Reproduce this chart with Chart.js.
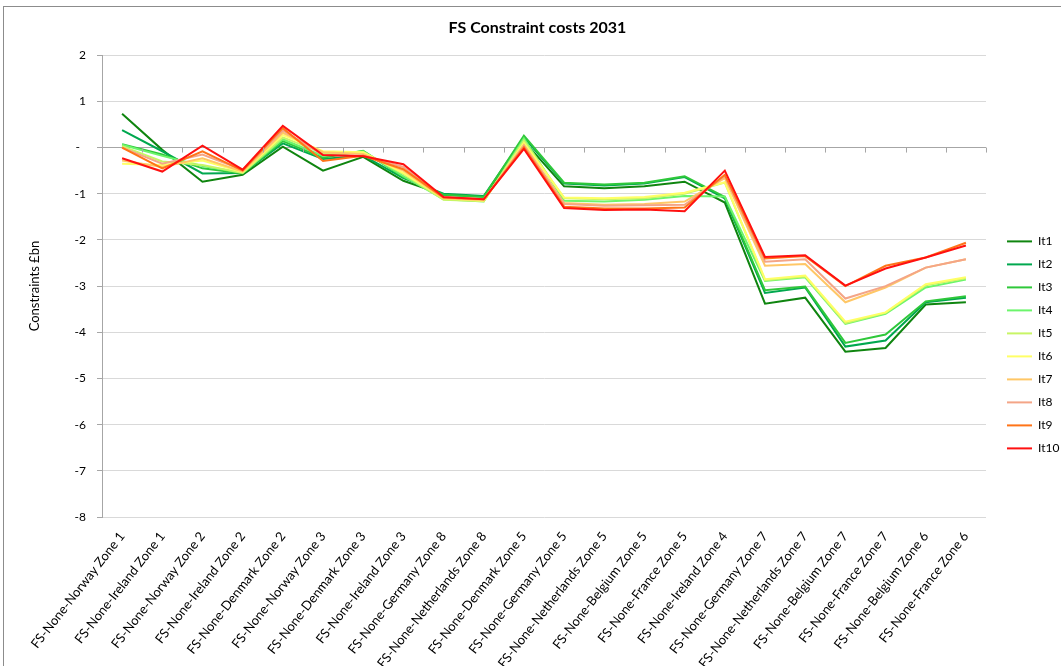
<!DOCTYPE html>
<html>
<head>
<meta charset="utf-8">
<script src="https://cdn.jsdelivr.net/npm/chart.js@4.4.1/dist/chart.umd.min.js"></script>
<style>
  html, body { margin: 0; padding: 0; background: #fff; }
</style>
</head>
<body>
<canvas id="chart" width="1061" height="666"></canvas>
<script>
// categories along the x axis
const zones = [
    'FS-None-Norway Zone 1', 'FS-None-Ireland Zone 1', 'FS-None-Norway Zone 2', 'FS-None-Ireland Zone 2',
    'FS-None-Denmark Zone 2', 'FS-None-Norway Zone 3', 'FS-None-Denmark Zone 3', 'FS-None-Ireland Zone 3',
    'FS-None-Germany Zone 8', 'FS-None-Netherlands Zone 8', 'FS-None-Denmark Zone 5', 'FS-None-Germany Zone 5',
    'FS-None-Netherlands Zone 5', 'FS-None-Belgium Zone 5', 'FS-None-France Zone 5', 'FS-None-Ireland Zone 4',
    'FS-None-Germany Zone 7', 'FS-None-Netherlands Zone 7', 'FS-None-Belgium Zone 7', 'FS-None-France Zone 7',
    'FS-None-Belgium Zone 6', 'FS-None-France Zone 6'
];

// constraint costs, £bn, one array per iteration
const it1  = [0.73, -0.05, -0.74, -0.59, 0.02, -0.50, -0.20, -0.72, -1.02, -1.06, 0.14, -0.84, -0.88, -0.84, -0.74, -1.19, -3.38, -3.25, -4.42, -4.34, -3.40, -3.35];
const it2  = [0.38, -0.08, -0.56, -0.55, 0.09, -0.25, -0.17, -0.66, -1.00, -1.05, 0.22, -0.78, -0.82, -0.78, -0.64, -1.10, -3.15, -3.03, -4.31, -4.18, -3.35, -3.25];
const it3  = [0.07, -0.15, -0.45, -0.56, 0.14, -0.22, -0.07, -0.64, -1.02, -1.07, 0.26, -0.76, -0.80, -0.76, -0.62, -1.07, -3.09, -3.01, -4.23, -4.05, -3.33, -3.22];
const it4  = [0.06, -0.18, -0.40, -0.55, 0.18, -0.18, -0.08, -0.62, -1.12, -1.17, 0.20, -1.15, -1.17, -1.13, -1.05, -1.06, -2.89, -2.81, -3.82, -3.60, -3.03, -2.86];
const it5  = [0.03, -0.30, -0.38, -0.55, 0.22, -0.12, -0.10, -0.57, -1.13, -1.16, 0.15, -1.10, -1.12, -1.10, -1.00, -0.76, -2.87, -2.79, -3.80, -3.58, -2.98, -2.83];
const it6  = [-0.35, -0.38, -0.28, -0.53, 0.27, -0.08, -0.10, -0.55, -1.10, -1.15, 0.10, -1.08, -1.10, -1.07, -0.98, -0.75, -2.85, -2.77, -3.77, -3.57, -2.96, -2.81];
const it7  = [-0.28, -0.42, -0.23, -0.52, 0.32, -0.10, -0.14, -0.50, -1.10, -1.14, 0.06, -1.20, -1.24, -1.22, -1.17, -0.66, -2.56, -2.52, -3.35, -3.03, -2.60, -2.42];
const it8  = [0.00, -0.35, -0.15, -0.48, 0.37, -0.16, -0.17, -0.42, -1.08, -1.12, 0.04, -1.22, -1.26, -1.25, -1.24, -0.62, -2.47, -2.42, -3.27, -3.00, -2.60, -2.42];
const it9  = [0.00, -0.45, -0.08, -0.50, 0.42, -0.29, -0.18, -0.47, -1.08, -1.12, 0.01, -1.28, -1.32, -1.32, -1.30, -0.59, -2.40, -2.35, -3.00, -2.56, -2.38, -2.06];
const it10 = [-0.23, -0.52, 0.04, -0.48, 0.47, -0.16, -0.19, -0.36, -1.07, -1.12, -0.03, -1.31, -1.35, -1.34, -1.38, -0.50, -2.37, -2.33, -2.99, -2.62, -2.38, -2.12];

const seriesNames = ['It1', 'It2', 'It3', 'It4', 'It5', 'It6', 'It7', 'It8', 'It9', 'It10'];
const seriesData = [it1, it2, it3, it4, it5, it6, it7, it8, it9, it10];
const seriesColors = ['#0f850f', '#00a84f', '#2fc83a', '#6cf56c', '#c8f566', '#ffff66', '#ffc766', '#f4a587', '#ff7418', '#ff1010'];

const FONT = 'Lato, "Open Sans", sans-serif';

// short tick marks on the zero line, like the category axis crossing at 0
const zeroTicks = {
    id: 'zeroTicks',
    afterDatasetsDraw(chart) {
        const {ctx, scales: {x, y}} = chart;
        const y0 = y.getPixelForValue(0);
        ctx.save();
        ctx.strokeStyle = '#a6a6a6';
        ctx.lineWidth = 1;
        ctx.beginPath();
        for (let i = 0; i <= zones.length; i++) {
            const px = Math.round(x.getPixelForValue(i - 0.5)) + 0.5;
            ctx.moveTo(px, y0);
            ctx.lineTo(px, y0 + 5);
        }
        ctx.stroke();
        ctx.restore();
    }
};

// white background and the thin frame around the chart
const frame = {
    id: 'frame',
    beforeDraw(chart) {
        const {ctx, width, height} = chart;
        ctx.save();
        ctx.fillStyle = '#fff';
        ctx.fillRect(0, 0, width, height);
        ctx.strokeStyle = '#8c8c8c';
        ctx.lineWidth = 1;
        ctx.strokeRect(3.5, 6.5, width, height);
        ctx.restore();
    }
};

const datasets = seriesNames.map((name, i) => ({
    label: name,
    data: seriesData[i],
    borderColor: seriesColors[i],
    backgroundColor: seriesColors[i],
    borderWidth: 2,
    pointRadius: 0,
    tension: 0,
    order: seriesNames.length - i
}));

const canvas = document.getElementById('chart');

const myChart = new Chart(canvas, {
    type: 'line',
    data: {
        labels: zones,
        datasets: datasets
    },
    plugins: [frame, zeroTicks],
    options: {
        responsive: false,
        animation: false,
        layout: {
            padding: {top: 0, left: 14, right: 0, bottom: 0}
        },
        plugins: {
            title: {
                display: true,
                text: 'FS Constraint costs 2031',
                color: '#000',
                font: {family: FONT, size: 16, weight: 'bold'},
                padding: {top: 18, bottom: 18}
            },
            legend: {
                position: 'right',
                align: 'start',
                maxWidth: 65,
                title: {
                    display: true,
                    text: ' ',
                    padding: {top: 210, bottom: 0}
                },
                labels: {
                    color: '#000',
                    font: {family: FONT, size: 12},
                    usePointStyle: true,
                    pointStyle: 'line',
                    pointStyleWidth: 25,
                    boxHeight: 12,
                    padding: 11,
                    sort: (a, b) => a.datasetIndex - b.datasetIndex
                }
            },
            tooltip: {enabled: false}
        },
        scales: {
            x: {
                offset: true,
                grid: {display: false},
                border: {display: false},
                ticks: {
                    color: '#000',
                    font: {family: FONT, size: 13},
                    autoSkip: false,
                    minRotation: 52,
                    maxRotation: 52,
                    padding: 4
                },
                afterFit: (scale) => { scale.height = 149; }
            },
            y: {
                min: -8,
                max: 2,
                ticks: {
                    stepSize: 1,
                    color: '#000',
                    font: {family: FONT, size: 12},
                    padding: 11,
                    callback: (v) => v === 0 ? '-  ' : v
                },
                grid: {
                    color: (c) => c.tick && c.tick.value === 0 ? '#a6a6a6' : '#d9d9d9',
                    tickColor: '#a6a6a6',
                    tickLength: 5
                },
                border: {color: '#a6a6a6'},
                title: {
                    display: true,
                    text: 'Constraints £bn',
                    color: '#000',
                    font: {family: FONT, size: 13},
                    padding: {top: 13, bottom: 0}
                },
                afterFit: (scale) => { scale.width = 88; }
            },
            // empty strip between the plot and the legend
            gap: {
                type: 'linear',
                position: 'right',
                grid: {display: false},
                border: {display: false},
                ticks: {display: false},
                afterFit: (scale) => { scale.width = 10; }
            }
        }
    }
});
</script>
</body>
</html>
